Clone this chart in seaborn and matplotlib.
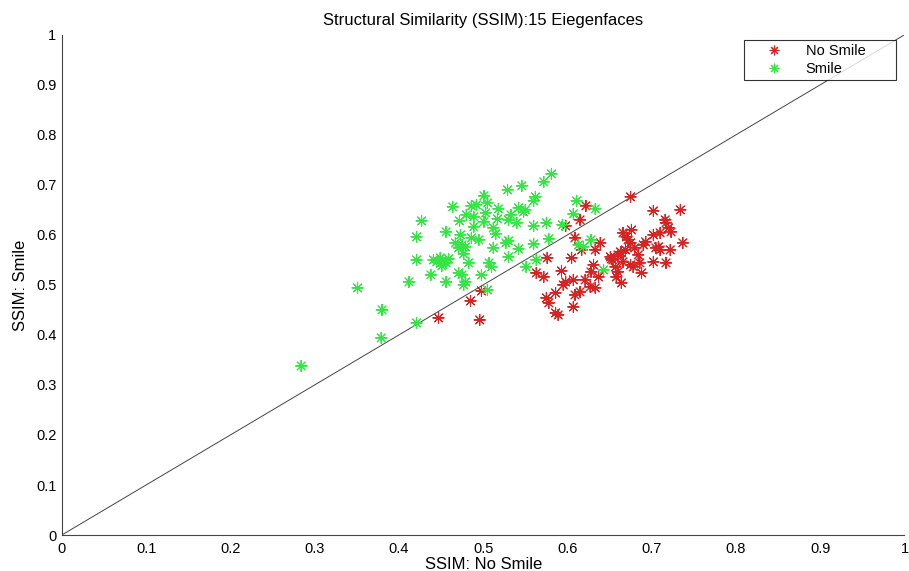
import matplotlib
matplotlib.use("Agg")
import matplotlib.pyplot as plt
import seaborn as sns
import pandas as pd
import numpy as np
from matplotlib.ticker import FixedLocator, FuncFormatter
from matplotlib.lines import Line2D

# Data
nosmile_x = [0.447, 0.496, 0.485, 0.498, 0.563, 0.572, 0.576, 0.593, 0.605, 0.615,
             0.622, 0.598, 0.609, 0.617, 0.639, 0.675, 0.575, 0.578, 0.586, 0.595,
             0.598, 0.607, 0.609, 0.607, 0.586, 0.589, 0.651, 0.664, 0.669, 0.675,
             0.680, 0.690, 0.686, 0.688, 0.657, 0.660, 0.658, 0.664, 0.621, 0.627,
             0.615, 0.633, 0.628, 0.637, 0.631, 0.702, 0.734, 0.716, 0.717, 0.720,
             0.723, 0.702, 0.710, 0.737, 0.693, 0.666, 0.670, 0.672, 0.676, 0.708,
             0.710, 0.705, 0.722, 0.663, 0.660, 0.684, 0.654, 0.666, 0.675, 0.678,
             0.702, 0.717, 0.633, 0.652]
nosmile_y = [0.434, 0.430, 0.468, 0.488, 0.524, 0.516, 0.554, 0.528, 0.554, 0.630,
             0.658, 0.618, 0.594, 0.570, 0.584, 0.676, 0.474, 0.464, 0.484, 0.500,
             0.506, 0.510, 0.480, 0.456, 0.444, 0.440, 0.556, 0.564, 0.570, 0.584,
             0.574, 0.580, 0.544, 0.524, 0.536, 0.526, 0.516, 0.504, 0.510, 0.496,
             0.486, 0.494, 0.526, 0.516, 0.540, 0.648, 0.650, 0.630, 0.624, 0.614,
             0.606, 0.600, 0.604, 0.584, 0.586, 0.604, 0.596, 0.590, 0.610, 0.576,
             0.570, 0.574, 0.570, 0.566, 0.560, 0.560, 0.550, 0.546, 0.540, 0.536,
             0.546, 0.544, 0.570, 0.552]

smile_x = [0.284, 0.351, 0.380, 0.379, 0.421, 0.412, 0.421, 0.421, 0.427, 0.438,
           0.456, 0.456, 0.441, 0.445, 0.449, 0.452, 0.456, 0.459, 0.451, 0.464,
           0.486, 0.492, 0.501, 0.505, 0.518, 0.529, 0.546, 0.562, 0.560, 0.572,
           0.581, 0.542, 0.550, 0.548, 0.480, 0.489, 0.503, 0.472, 0.533, 0.517,
           0.530, 0.540, 0.501, 0.560, 0.575, 0.489, 0.512, 0.515, 0.473, 0.486,
           0.495, 0.530, 0.578, 0.467, 0.475, 0.479, 0.471, 0.560, 0.512, 0.527,
           0.542, 0.477, 0.530, 0.563, 0.483, 0.507, 0.510, 0.551, 0.471, 0.475,
           0.498, 0.479, 0.477, 0.505, 0.611, 0.633, 0.607, 0.594, 0.628, 0.613,
           0.619, 0.643]
smile_y = [0.338, 0.494, 0.450, 0.394, 0.424, 0.506, 0.550, 0.596, 0.628, 0.520,
           0.506, 0.606, 0.550, 0.546, 0.554, 0.548, 0.544, 0.552, 0.538, 0.656,
           0.658, 0.660, 0.678, 0.664, 0.652, 0.690, 0.698, 0.676, 0.668, 0.706,
           0.722, 0.654, 0.650, 0.646, 0.640, 0.636, 0.644, 0.628, 0.640, 0.632,
           0.630, 0.624, 0.626, 0.618, 0.624, 0.616, 0.614, 0.602, 0.600, 0.594,
           0.590, 0.588, 0.592, 0.584, 0.580, 0.576, 0.574, 0.582, 0.574, 0.584,
           0.572, 0.562, 0.556, 0.550, 0.544, 0.544, 0.536, 0.536, 0.524, 0.520,
           0.520, 0.506, 0.500, 0.490, 0.668, 0.652, 0.642, 0.620, 0.590, 0.580,
           0.576, 0.530]

groups = ["No Smile", "Smile"]
colors = {"No Smile": "#d42424", "Smile": "#35e445"}
tick_values = [0, 0.1, 0.2, 0.3, 0.4, 0.5, 0.6, 0.7, 0.8, 0.9, 1]
diag = [0, 1]

df = pd.concat([
    pd.DataFrame({"x": nosmile_x, "y": nosmile_y, "group": groups[0]}),
    pd.DataFrame({"x": smile_x, "y": smile_y, "group": groups[1]}),
], ignore_index=True)

sns.set_style("white")
plt.rcParams["font.family"] = ["Liberation Sans", "DejaVu Sans"]
plt.rcParams["text.color"] = "black"
plt.rcParams["axes.labelcolor"] = "black"

fig = plt.figure(figsize=(9.09, 5.71), dpi=100)
ax = fig.add_axes([0.068, 0.063, 0.927, 0.876])

asterisk = (8, 2, 0)
sns.scatterplot(data=df, x="x", y="y", hue="group", palette=colors,
                hue_order=groups, marker=asterisk, s=64, linewidth=0.75,
                ax=ax, legend=False, zorder=3)

sns.lineplot(x=diag, y=diag, color="#444444", linewidth=0.7, ax=ax, zorder=2)

ax.set_xlim(0, 1)
ax.set_ylim(0, 1)
ax.xaxis.set_major_locator(FixedLocator(tick_values))
ax.yaxis.set_major_locator(FixedLocator(tick_values))
fmt = FuncFormatter(lambda v, p: "%g" % v)
ax.xaxis.set_major_formatter(fmt)
ax.yaxis.set_major_formatter(fmt)
ax.tick_params(direction="in", length=5, width=0.8, labelsize=10.5, colors="black",
               pad=4)
ax.tick_params(axis="x", pad=5)
for side in ["top", "right"]:
    ax.spines[side].set_visible(False)
for side in ["left", "bottom"]:
    ax.spines[side].set_color("#444444")
    ax.spines[side].set_linewidth(0.8)

ax.set_xlabel("SSIM: No Smile", fontsize=12, labelpad=1, color="black")
ax.set_ylabel("SSIM: Smile", fontsize=12, labelpad=6, color="black")
ax.set_title("Structural Similarity (SSIM):15 Eiegenfaces", fontsize=12, pad=7,
             color="black")

handles = [Line2D([], [], linestyle="none", marker=asterisk, markersize=7,
                  color=colors[g], markeredgewidth=0.8) for g in groups]
leg = ax.legend(handles, groups, loc="upper left",
                bbox_to_anchor=(0.810, 0.908, 0.180, 0.082), mode="expand",
                frameon=True, fancybox=False, fontsize=10.5, handletextpad=0.5,
                borderpad=0.3, labelspacing=0.25, handlelength=3.4,
                borderaxespad=0, labelcolor="black")
leg.get_frame().set_edgecolor("black")
leg.get_frame().set_linewidth(0.8)

fig.savefig("out.png", dpi=100, facecolor="white")
